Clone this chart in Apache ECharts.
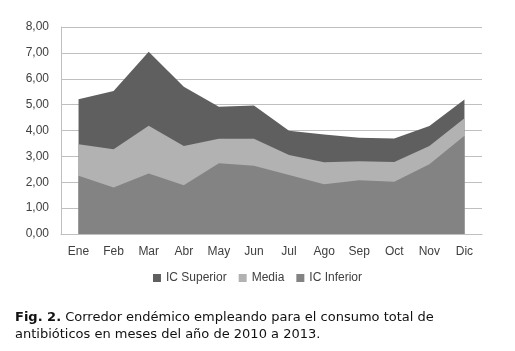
<!DOCTYPE html>
<html>
<head>
<meta charset="utf-8">
<script src="https://cdn.jsdelivr.net/npm/echarts@6/dist/echarts.min.js"></script>
<style>
body{margin:0;background:#fff;}
#chart{width:515px;height:351px;}
</style>
</head>
<body>
<div id="chart"></div>
<script>
var months=['Ene','Feb','Mar','Abr','May','Jun','Jul','Ago','Sep','Oct','Nov','Dic'];
var icSuperior=[5.21,5.53,7.04,5.69,4.92,4.97,3.99,3.85,3.72,3.69,4.17,5.20];
var media=[3.47,3.28,4.18,3.40,3.68,3.68,3.05,2.77,2.81,2.78,3.40,4.47];
var icInferior=[2.25,1.80,2.34,1.88,2.73,2.64,2.28,1.92,2.08,2.02,2.70,3.80];

var chart=echarts.init(document.getElementById('chart'));

function areaSeries(name,data,color){
    return {
        name:name,
        type:'line',
        data:data,
        symbol:'none',
        lineStyle:{width:0},
        itemStyle:{color:color},
        areaStyle:{color:color,opacity:1},
        animation:false
    };
}

var option={
    animation:false,
    grid:{left:61,right:33,top:27,bottom:117},
    legend:{
        data:['IC Superior','Media','IC Inferior'],
        bottom:62,
        left:'center',
        itemWidth:8,
        itemHeight:8,
        itemGap:12,
        icon:'rect',
        textStyle:{fontFamily:'Liberation Sans',fontSize:12,color:'#404040'}
    },
    xAxis:{
        type:'category',
        data:months,
        boundaryGap:true,
        axisLine:{lineStyle:{color:'#bfbfbf'}},
        axisTick:{show:false},
        axisLabel:{fontFamily:'Liberation Sans',fontSize:12,color:'#404040',margin:12}
    },
    yAxis:{
        type:'value',
        min:0,max:8,interval:1,
        axisLine:{show:true,lineStyle:{color:'#bfbfbf'}},
        axisTick:{show:false},
        splitLine:{lineStyle:{color:'#bfbfbf'}},
        axisLabel:{
            fontFamily:'Liberation Sans',fontSize:12,color:'#404040',margin:12,
            formatter:function(v){return v.toFixed(2).replace('.',',');}
        }
    },
    series:[
        areaSeries('IC Superior',icSuperior,'#5f5f5f'),
        areaSeries('Media',media,'#b2b2b2'),
        areaSeries('IC Inferior',icInferior,'#838383')
    ],
    graphic:[{
        type:'text',
        left:15,
        top:309,
        style:{
            text:'{b|Fig. 2.} Corredor endémico empleando para el consumo total de\nantibióticos en meses del año de 2010 a 2013.',
            font:'13px "DejaVu Sans"',
            fill:'#111',
            lineHeight:17,
            rich:{b:{fontWeight:'bold',fontFamily:'DejaVu Sans',fontSize:13,fill:'#111'}}
        }
    }]
};
chart.setOption(option);
</script>
</body>
</html>
